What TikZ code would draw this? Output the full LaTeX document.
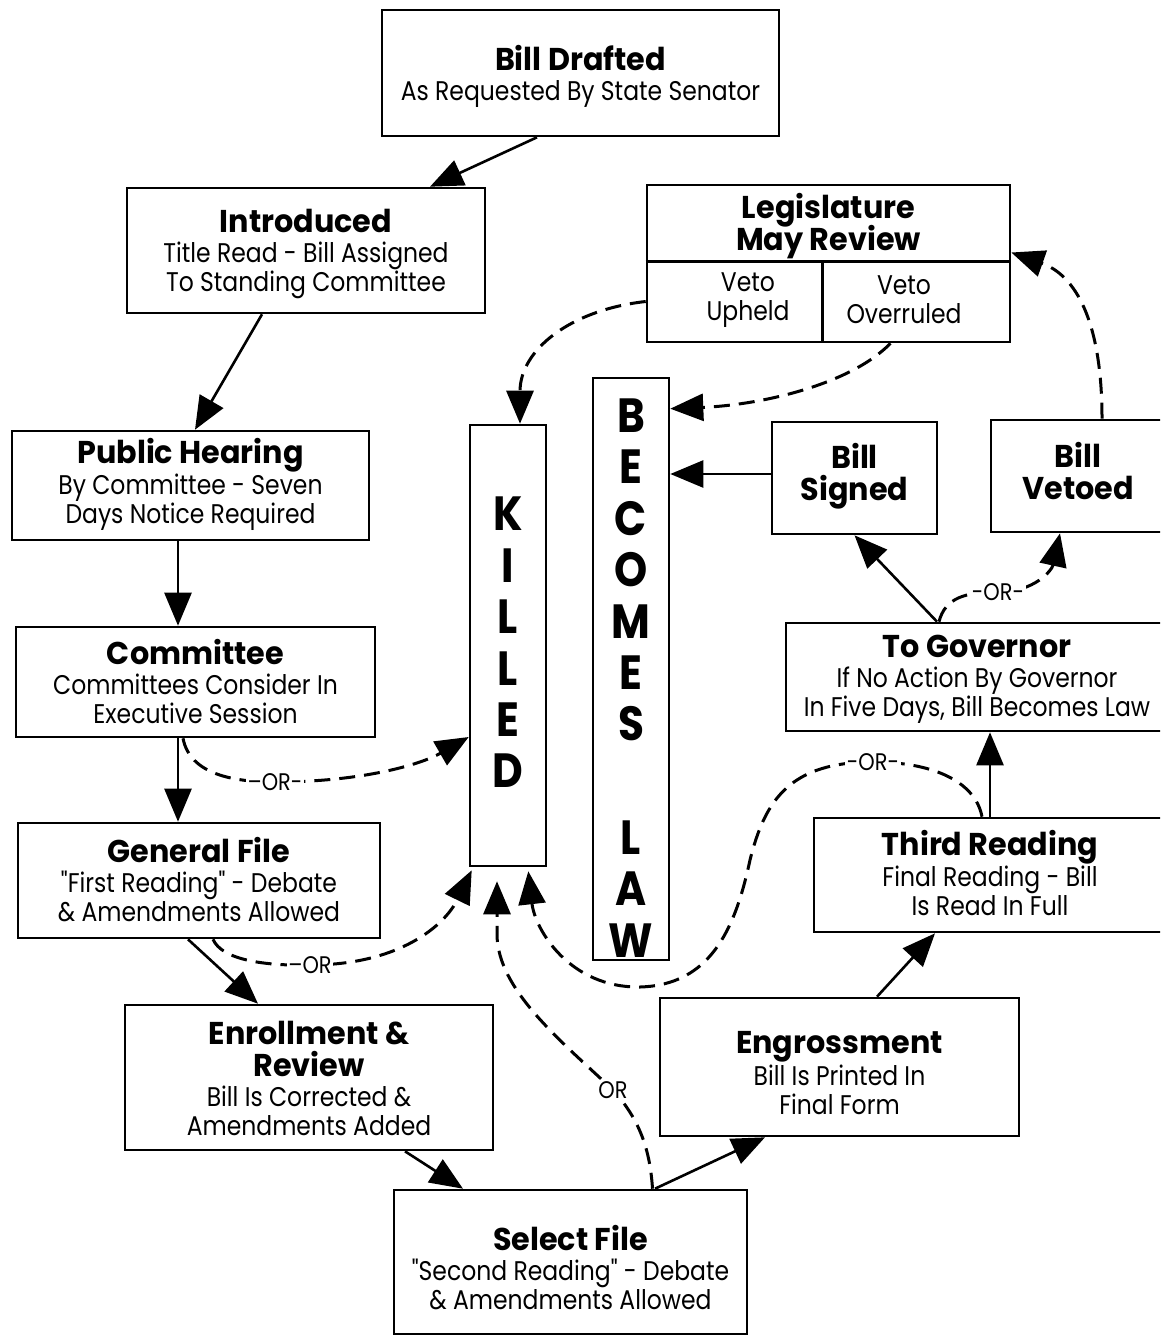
\documentclass[tikz,border=0pt]{standalone}
\usepackage{fontspec}
\newfontfamily\titfam[FakeStretch=0.96]{Poppins}
\newfontfamily\subfam[FakeStretch=0.87]{Poppins}
\newfontfamily\letfam[FakeStretch=0.88]{Poppins}
\usetikzlibrary{arrows.meta,calc}
\newcommand\ttl[1]{{\titfam\bfseries\fontsize{31.5}{33}\selectfont #1}}
\tikzset{
  box/.style={draw, line width=2.6pt, inner sep=0pt},
  txt/.style={inner sep=0pt, align=center, font=\subfam\fontsize{27}{29}\selectfont},
  bigletters/.style={inner sep=0pt, align=center, font=\letfam\bfseries\fontsize{48}{51.4}\selectfont},
  solidarr/.style={line width=2.6pt, -{Triangle[length=33pt,width=27pt]}},
  dasharr/.style={line width=3pt, dash pattern=on 16pt off 9pt, -{Triangle[length=33pt,width=27pt]}},
  orlab/.style={fill=white, inner sep=1.5pt, font=\subfam\fontsize{24}{24}\selectfont},
}
\begin{document}
\begin{tikzpicture}[x=1pt,y=-1pt]
\useasboundingbox (0,0) rectangle (1160,1337);
\clip (0,0) rectangle (1160,1337);
\fill[white] (0,0) rectangle (1160,1337);

% boxes and their texts
\node[box, minimum width=397pt, minimum height=126pt] (bd) at (580.5,73) {};
\node[txt] (bdT) at ([yshift=-3pt]bd.center) {\ttl{Bill Drafted}\\[1pt] As Requested By State Senator};
\node[box, minimum width=358pt, minimum height=125pt] (intro) at (306,250.5) {};
\node[txt] (introT) at ([yshift=-3pt]intro.center) {\ttl{Introduced}\\[1pt] Title Read - Bill Assigned\\ To Standing Committee};
\node[box, minimum width=363pt, minimum height=157pt] (legis) at (828.5,263.5) {};
\node[txt] (legT) at (828.5,226) {\ttl{Legislature}\\[-3pt] \ttl{May Review}};
\node[txt] (vU) at (748,300) {Veto\\ Upheld};
\node[txt] (vO) at (904,300) {Veto\\ Overruled};
\node[box, minimum width=357pt, minimum height=109pt] (ph) at (190.5,485.5) {};
\node[txt] (phT) at ([yshift=1pt]ph.center) {\ttl{Public Hearing}\\[1pt] By Committee - Seven\\ Days Notice Required};
\node[box, minimum width=76pt, minimum height=441pt] (killed) at (508,645.5) {};
\node[bigletters] (kT) at (508,642.5) {K\\ I\\ L\\ L\\ E\\ D};
\node[box, minimum width=76pt, minimum height=582pt] (law) at (631,669) {};
\node[bigletters] (lT) at (631,678) {B\\ E\\ C\\ O\\ M\\ E\\ S\\[62pt] L\\ A\\ W};
\node[box, minimum width=165pt, minimum height=112pt] (signed) at (854.5,478) {};
\node[txt] (signedT) at ([yshift=2pt]signed.center) {\ttl{Bill}\\[3pt] \ttl{Signed}};
\node[box, minimum width=174pt, minimum height=112pt] (vetoed) at (1078,476) {};
\node[txt] (vetoedT) at ([yshift=5pt]vetoed.center) {\ttl{Bill}\\[3pt] \ttl{Vetoed}};
\node[box, minimum width=359pt, minimum height=110pt] (comm) at (195.5,682) {};
\node[txt] (commT) at ([yshift=1pt]comm.center) {\ttl{Committee}\\[1pt] Committees Consider In\\ Executive Session};
\node[box, minimum width=382pt, minimum height=108pt] (gov) at (977,677) {};
\node[txt] (govT) at ([yshift=-2pt]gov.center) {\ttl{To Governor}\\[1pt] If No Action By Governor\\ In Five Days, Bill Becomes Law};
\node[box, minimum width=362pt, minimum height=115pt] (gf) at (199,880.5) {};
\node[txt] (gfT) at ([yshift=1pt]gf.center) {\ttl{General File}\\[1pt] "First Reading" - Debate\\ \& Amendments Allowed};
\node[box, minimum width=352pt, minimum height=114pt] (third) at (990,875) {};
\node[txt] (thirdT) at ([yshift=2pt]third.center) {\ttl{Third Reading}\\[1pt] Final Reading - Bill\\ Is Read In Full};
\node[box, minimum width=359pt, minimum height=138pt] (engr) at (839.5,1067) {};
\node[txt] (engrT) at ([yshift=-6pt]engr.center) {\ttl{Engrossment}\\[1pt] Bill Is Printed In\\ Final Form};
\node[box, minimum width=368pt, minimum height=145pt] (enroll) at (309,1077.5) {};
\node[txt] (enrollT) at ([yshift=-1pt]enroll.center) {\ttl{Enrollment \&}\\[3pt] \ttl{Review}\\[1pt] Bill Is Corrected \&\\ Amendments Added};
\node[box, minimum width=353pt, minimum height=144pt] (select) at (570.5,1262) {};
\node[txt] (selectT) at ([yshift=-6pt]select.center) {\ttl{Select File}\\[1pt] "Second Reading" - Debate\\ \& Amendments Allowed};

% legislature dividers
\draw[line width=2.6pt] ([yshift=-78pt]legis.north west) -- ([yshift=-78pt]legis.north east);
\draw[line width=2.6pt] ([xshift=177pt,yshift=-78pt]legis.north west) -- ([xshift=177pt]legis.south west);

% solid arrows
\draw[solidarr] ([xshift=-43.5pt]bd.south) -- ([xshift=124pt]intro.north);
\draw[solidarr] ([xshift=-44pt]intro.south) -- ([xshift=4.5pt]ph.north);
\draw[solidarr] ([xshift=-12.5pt]ph.south) -- ([xshift=-17.5pt]comm.north);
\draw[solidarr] ([xshift=-17.5pt]comm.south) -- ([xshift=-21pt]gf.north);
\draw[solidarr] ([xshift=-11pt]gf.south) -- ([xshift=-51pt]enroll.north);
\draw[solidarr] ([xshift=96pt]enroll.south) -- ([xshift=-107.5pt]select.north);
\draw[solidarr] ([xshift=84.5pt]select.north) -- ([xshift=-74.5pt]engr.south);
\draw[solidarr] ([xshift=37.5pt]engr.north) -- ([xshift=-55pt]third.south);
\draw[solidarr] (third.north) -- ([xshift=13pt]gov.south);
\draw[solidarr] ([xshift=-40pt]gov.north) -- (signed.south);
\coordinate (sw) at ([yshift=4pt]signed.west);
\draw[solidarr] (sw) -- (sw -| law.east);

% dashed arrows
\draw[dasharr] ([xshift=-12.5pt]comm.south) .. controls (190,775) and (235,782) .. (275,782)
  node[orlab] (or1) {–OR-}
  .. controls (360,782) and (420,765) .. ([yshift=-91.5pt]killed.west);
\draw[dasharr] ([xshift=14pt]gf.south) .. controls (222,960) and (265,966) .. (310,965)
  node[orlab] (or2) {–OR}
  .. controls (400,965) and (445,925) .. ([xshift=3pt,yshift=-3pt]killed.south west);
\draw[dasharr] ([xshift=82pt]select.north) .. controls (650,1150) and (640,1120) .. (613,1090)
  node[orlab] (or3) {OR}
  .. controls (560,1040) and (498,990) .. (497,935) -- ([xshift=-11pt,yshift=-14pt]killed.south);
\draw[dasharr] ([xshift=-8pt]third.north) .. controls (975,780) and (930,762) .. (873,762)
  node[orlab] (or4) {-OR-}
  .. controls (790,762) and (765,800) .. (750,860)
  .. controls (735,930) and (710,985) .. (640,987)
  .. controls (570,988) and (535,930) .. ([xshift=-19pt,yshift=-4pt]killed.south east);
\draw[dasharr] ([yshift=-38pt]legis.west) .. controls (570,310) and (520,350) .. ([xshift=12pt]killed.north);
\draw[dasharr] ([xshift=62pt]legis.south) .. controls (850,385) and (760,405) .. ([yshift=-32pt]law.north east);
\draw[dasharr] ([xshift=24pt]vetoed.north) .. controls (1102,320) and (1075,275) .. ([yshift=11pt]legis.east);
\draw[dasharr] ([xshift=-38pt]gov.north) .. controls (945,598) and (965,592) .. (998,592)
  node[orlab] (or5) {-OR-}
  .. controls (1035,592) and (1052,570) .. ([xshift=-18pt]vetoed.south);
\end{tikzpicture}
\end{document}
